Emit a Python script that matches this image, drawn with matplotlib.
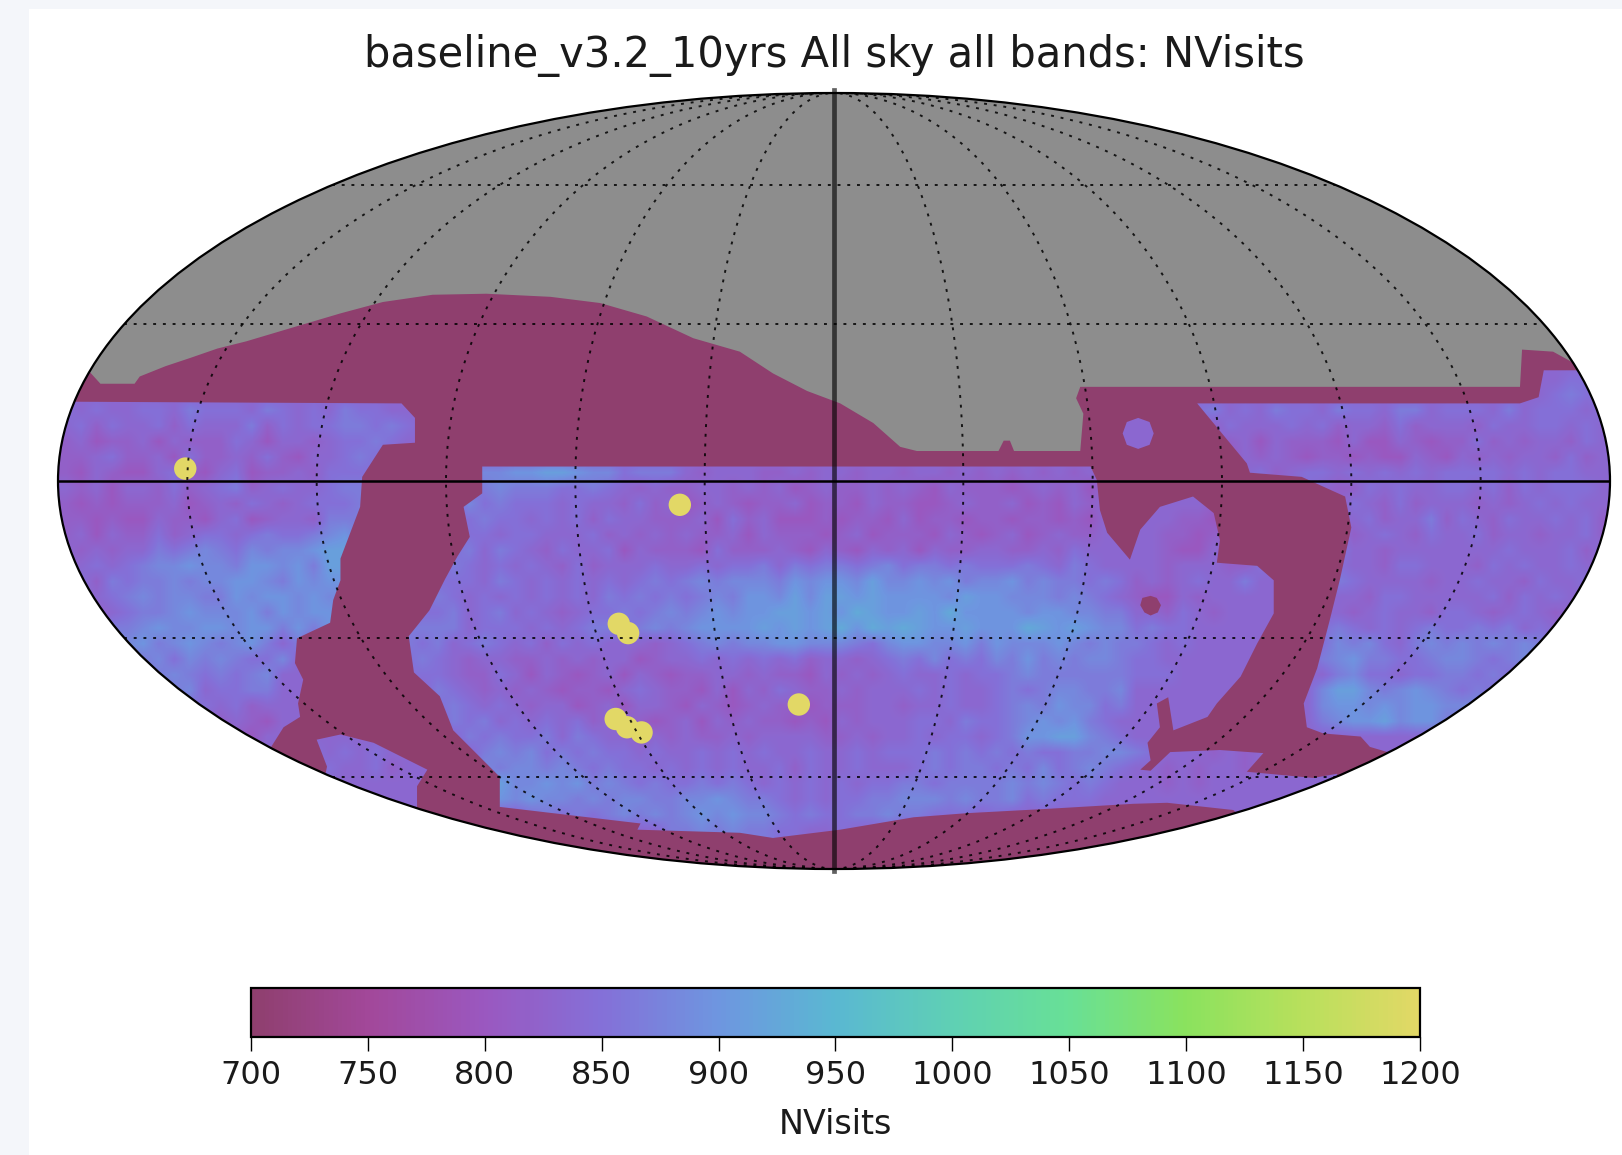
import numpy as np
import matplotlib
matplotlib.use('Agg')
import matplotlib.pyplot as plt
from matplotlib.colors import LinearSegmentedColormap, Normalize
from matplotlib.cm import ScalarMappable
from matplotlib.patches import Ellipse, PathPatch, Polygon, Rectangle
from matplotlib.path import Path

title = 'baseline_v3.2_10yrs All sky all bands: NVisits'
cbar_label = 'NVisits'
cbar_ticks = [700, 750, 800, 850, 900, 950, 1000, 1050, 1100, 1150, 1200]
cbar_colors = ['#8f3f6e', '#a2489a', '#9a58c0', '#8470d8', '#6e96e0', '#5ab8d2',
               '#5fd0b4', '#68e096', '#8ae25e', '#b8e05c', '#e2d866']

# map plane: x -750..750, y -375..375 (mollweide, already projected)
# visits per cell inside the survey, one hex digit = 770 + 16 * digit
visit_rows = [
    "4444444444 4444444444 4444444444 4444444444 4444444444 4444444444 4444444444 4444444444 4444444444 4444444444",
    "4444444444 4444444444 4444444444 4444444444 4444444444 4444444444 4444444444 4444444444 4444444444 4444444555",
    "4444444444 4444444444 4444444444 4444444444 4444444444 4444444444 4444444444 4444444444 4444444444 4444445655",
    "5454455465 5546545465 5444444444 4444444444 4444444444 4444444444 4444444444 4455645465 5465546645 5546455545",
    "4535445354 4463545566 5654444444 4444444444 4444444444 4444444444 4444444444 4435354445 4534435344 4354455454",
    "3423342433 3542443455 6544444444 4444444444 4444444444 4444444444 4444444444 4444434243 3324224323 3534344354",
    "3345334253 3435324456 5444444444 4444444444 4444444444 4444444444 4444444444 4444424343 2332322432 4343443534",
    "3243224532 4523343555 5444447778 8998775666 4344433434 4344344343 4343434344 4444444534 5545454545 5554545544",
    "4342443534 5634544566 5444445676 6655654343 3443434234 3343432433 3234342444 4444444444 5433545445 5453545554",
    "3232333423 4354345556 5444447565 5545443534 2343233423 3243322343 3423243444 4444333444 4435435344 4343454544",
    "3323224332 4523443666 6444455655 4545354433 3425342223 2332423323 3233232444 4433232444 4344534463 5435445453",
    "3424335345 5456556786 5444465545 5444534343 4334243332 3423332432 3423433444 4332333444 4553454354 4534434453",
    "4343446567 6576778997 4444456465 4354452433 3253334324 3243424334 4334354444 4322434444 4464434444 4445444535",
    "3454567787 7688786994 4444465454 5435344454 4545564656 6567566565 5565465444 4344433544 4454435544 4354544543",
    "4536566767 7887687884 4444555465 4545454565 6767776878 8797787867 7867665653 4345446444 4465444434 4544354454",
    "5445676776 6878878774 4445654545 4545465656 5676887979 9898888798 8777676543 2243444444 4344355444 4453545444",
    "4534566787 7786878864 4445564564 5434556567 6787889989 8a98898a88 8878877664 4354344444 4443454435 5434543443",
    "5456678778 8788686854 4466664555 4545665676 7888898989 a8a9a98898 88a9898775 6554444444 4565454565 5656454454",
    "5567786787 6786464444 4465645654 5354544434 5676778877 7657887786 8777876766 5454444444 4576754676 7676765544",
    "4556667576 7655744444 4456543443 3434344234 4545454534 4345657565 7686767765 5444444444 4678665567 7656776544",
    "4457666765 6567444444 4455543354 2432342432 3344343324 3434544545 5676666665 5544444444 4467554556 6565445444",
    "4466776674 5566444444 4464654343 4323324543 3242435433 4344454544 5656776674 4444444444 4799767876 5656544444",
    "4445675655 4534444444 4444565454 3442342443 2432343323 3344344544 5676877564 4444444444 4788787887 7767444444",
    "4445656544 3432444444 4444465645 4545344323 4243433232 4344455465 5678786544 4444444444 4678897886 6444444444",
    "4444445443 2324444444 4444446565 5646544343 4334344443 3434454554 5688997654 4444444444 4444444444 4444444444",
    "4444444444 4444445454 5444444676 7565655454 4545454454 4545556565 6565566776 5444343444 4444444444 4444444444",
    "4444444444 4444444544 5344444767 7676565545 4545445354 4544456566 5657567654 4343443444 4444444444 4444444444",
    "4444444444 4444443444 4444448797 7878676565 5656545454 5455665666 6767656544 4343444444 4444444444 4444444444",
    "4444444444 4444444444 4444447887 8776767766 7787665454 5566777676 6756555444 4444444444 4444444444 4444444444",
    "4444444444 4444444444 4444444444 5656567676 7878776565 5667665554 5444444444 4444444444 4444444444 4444444444",
    "4444444444 4444444444 4444444444 4444444446 6767665544 5444444444 4444444444 4444444444 4444444444 4444444444",
]

# no-visit part of the sky
grey_x = [-850, -719, -709, -676, -671, -646, -622, -596, -568, -521, -477, -436, -388, -336, -274, -226,
          -181, -136, -91, -59, -26, 6, 38, 64, 80, 159, 164, 170, 174, 238, 241, 234, 238, 663, 665, 695,
          715, 850, 850, -850]
grey_y = [105, 105, 94, 94, 101, 111, 119, 128, 135, 149, 162, 173, 180, 181, 178, 172,
          159, 138, 125, 104, 87, 75, 56, 33, 29, 29, 39, 39, 29, 29, 65, 80, 91, 91, 127, 125,
          114, 105, 400, 400]

# survey footprints, everything else in the sky is at the bottom of the colour scale
west_x = [-806, -418, -405, -405, -436, -456, -458, -477, -477, -484, -487, -519, -521, -513, -518, -516,
          -532, -544, -806]
west_y = [77, 75, 61, 37, 35, 4, -25, -75, -96, -115, -137, -152, -176, -192, -215, -228,
          -238, -257, -257]
strip_x = [-500, -477, -445, -393, -403, -403, -496, -490]
strip_y = [-250, -245, -253, -279, -295, -325, -305, -276]
main_x = [-340, 248, 254, 257, 264, 286, 296, 315, 347, 367, 373, 370, 409, 425, 425, 409, 393, 370, 361,
          328, 323, 312, 315, 303, 306, 296, 306, 325, 373, 415, 399, 463, 486, 494, 404, 386, 322, 289, 204,
          129, 77, 6, -59, -91, -190, -187, -323, -323, -368, -381, -406, -411, -391, -376, -364, -352,
          -358, -340]
main_y = [14, 14, 1, -28, -50, -76, -47, -25, -15, -31, -57, -79, -82, -96, -128, -157, -189, -215, -228,
          -241, -209, -215, -238, -253, -270, -279, -280, -262, -260, -263, -281, -287, -283, -305, -335,
          -318, -311, -312, -317, -321, -325, -337, -345, -340, -337, -331, -315, -286, -241, -208, -185, -150,
          -125, -95, -73, -54, -25, -12]
east_x = [351, 663, 681, 686, 794, 794, 594, 535, 518, 509, 473, 457, 454, 467, 479, 489, 500, 494, 452,
          402, 399, 370]
east_y = [75, 75, 81, 107, 107, -285, -295, -262, -257, -247, -244, -238, -215, -181, -135, -95, -45,
          -15, 4, 8, 17, 52]
spot_x = [309, 305, 294, 283, 279, 283, 294, 305]
spot_y = [46, 57, 61, 57, 46, 35, 31, 35]
island_x = [316, 312, 306, 298, 296, 300, 306, 313]
island_y = [-120, -113, -111, -113, -120, -127, -130, -127]

# deep drilling fields
ddf_x = [-627, -149, -208, -199, -211, -200, -186, -34]
ddf_y = [12, -23, -138, -147, -230, -238, -243, -216]
ddf_visits = [1200, 1200, 1200, 1200, 1200, 1200, 1200, 1200]

meridians = [-150, -120, -90, -60, -30, 30, 60, 90, 120, 150]
parallels = [-60, -30, 30, 60]


def as_hole(xs, ys):
    v = np.column_stack([xs, ys]).astype(float)
    area = np.sum(v[:, 0] * np.roll(v[:, 1], -1) - np.roll(v[:, 0], -1) * v[:, 1])
    if area > 0:
        v = v[::-1]
    return Path(np.vstack([v, v[:1]]), closed=True)


def aux_angle(lat):
    phi = np.radians(lat)
    t = phi
    for i in range(30):
        t = t - (2 * t + np.sin(2 * t) - np.pi * np.sin(phi)) / (2 + 2 * np.cos(2 * t))
    return t


fig = plt.figure(figsize=(16.22, 11.55), dpi=100, facecolor='white')
fig.add_artist(Rectangle((0, 0), 29 / 1622, 1, transform=fig.transFigure, color='#f4f6fa', lw=0))
fig.add_artist(Rectangle((0, 1 - 9 / 1155), 1, 9 / 1155, transform=fig.transFigure, color='#f4f6fa', lw=0))

ax = fig.add_axes([58 / 1622, (1155 - 869) / 1155, 1552 / 1622, 776 / 1155])
cmap = LinearSegmentedColormap.from_list('nvisits', cbar_colors)
norm = Normalize(cbar_ticks[0], cbar_ticks[-1])

outline = Ellipse((0, 0), 1500, 750, fc='none', ec='black', lw=1.6, zorder=10, clip_on=False)
ax.add_patch(outline)

grid = np.array([[770 + 16 * int(c, 16) for c in row.replace(' ', '')] for row in visit_rows])
im = ax.imshow(grid, extent=(-750, 750, -345, 120), aspect='auto', cmap=cmap, norm=norm,
               interpolation='bilinear', zorder=1)
im.set_clip_path(outline)

sky = np.array([[-850, -400], [850, -400], [850, 400], [-850, 400], [-850, -400]], dtype=float)
dark_path = Path.make_compound_path(Path(sky, closed=True), as_hole(west_x, west_y), as_hole(strip_x, strip_y),
                                    as_hole(main_x, main_y), as_hole(east_x, east_y), as_hole(spot_x, spot_y))
dark = PathPatch(dark_path, fc=cmap(norm(700)), ec='none', zorder=2)
ax.add_patch(dark)
dark.set_clip_path(outline)
island = Polygon(np.column_stack([island_x, island_y]), fc=cmap(norm(700)), ec='none', zorder=2)
ax.add_patch(island)
island.set_clip_path(outline)
grey = Polygon(np.column_stack([grey_x, grey_y]), fc='#8d8d8d', ec='none', zorder=3)
ax.add_patch(grey)
grey.set_clip_path(outline)

pts = ax.scatter(ddf_x, ddf_y, c=ddf_visits, s=260, cmap=cmap, norm=norm, linewidths=0, zorder=4)
pts.set_clip_path(outline)

theta = np.linspace(-np.pi / 2, np.pi / 2, 300)
for lon in meridians:
    ax.plot(750 * lon / 180 * np.cos(theta), 375 * np.sin(theta), color='black', lw=1.4,
            ls=(0, (1.5, 3.5)), alpha=0.85, zorder=5)
for lat in parallels:
    t = aux_angle(lat)
    ax.plot([-750 * np.cos(t), 750 * np.cos(t)], [375 * np.sin(t)] * 2, color='black', lw=1.4,
            ls=(0, (1.5, 3.5)), alpha=0.85, zorder=5)
ax.plot([-750, 750], [0, 0], color='black', lw=1.8, zorder=6)
ax.plot([0, 0], [-377, 378], color='black', lw=3.4, alpha=0.62, zorder=6, clip_on=False)

ax.set_xlim(-750, 750)
ax.set_ylim(-375, 375)
ax.axis('off')
ax.set_title(title, fontsize=30, color='#1a1a1a', pad=19)

cax = fig.add_axes([251 / 1622, (1155 - 1037) / 1155, 1169 / 1622, 49 / 1155])
cb = fig.colorbar(ScalarMappable(norm=norm, cmap=cmap), cax=cax, orientation='horizontal', ticks=cbar_ticks)
cb.outline.set_linewidth(1.6)
cb.ax.tick_params(labelsize=23, length=10, width=1, pad=6.5, labelcolor='#1a1a1a')
cb.set_label(cbar_label, fontsize=24, color='#1a1a1a', labelpad=12)

fig.savefig('out.png', dpi=100)
